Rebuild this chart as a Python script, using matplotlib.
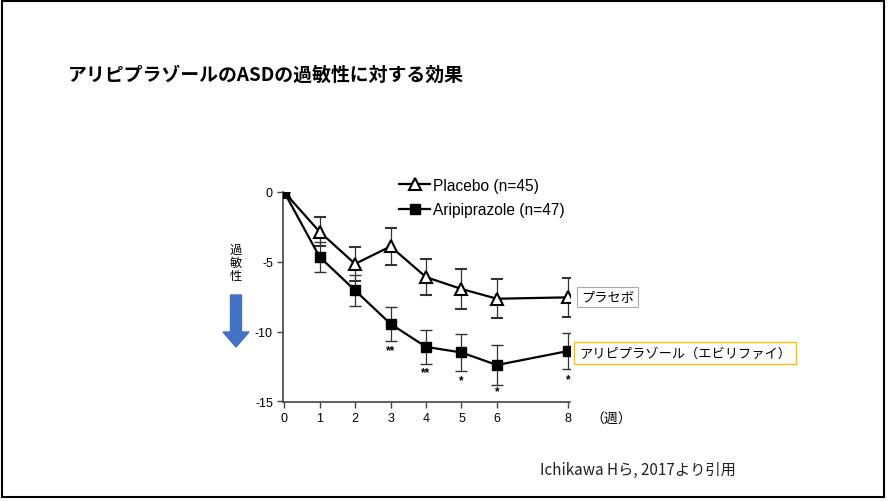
import numpy as np
import matplotlib.pyplot as plt
from matplotlib.patches import Rectangle, FancyArrow
from matplotlib.lines import Line2D

plt.rcParams['font.family'] = ['Liberation Sans', 'Noto Sans CJK JP', 'DejaVu Sans']

weeks = [0, 1, 2, 3, 4, 5, 6, 8]
placebo = [0, -2.85, -5.15, -3.9, -6.1, -6.95, -7.65, -7.55]
placebo_err = [0, 1.05, 1.2, 1.3, 1.3, 1.4, 1.4, 1.4]
aripiprazole = [0, -4.65, -7.05, -9.45, -11.1, -11.5, -12.4, -11.4]
aripiprazole_err = [0, 1.05, 1.1, 1.2, 1.2, 1.3, 1.4, 1.3]
star_weeks = [3, 4, 5, 6, 8]
star_text = ['**', '**', '*', '*', '*']
star_y = [-11.3, -12.9, -13.5, -14.3, -13.4]
xticks = [0, 1, 2, 3, 4, 5, 6, 8]
yticks = [0, -5, -10, -15]
labels = ['Placebo (n=45)', 'Aripiprazole (n=47)']

W, H = 890, 502
fig = plt.figure(figsize=(W / 100, H / 100), dpi=100)

# slide frame
fig.patches.append(Rectangle((2 / W, 4 / H), 882 / W, 496 / H, transform=fig.transFigure,
                             fill=False, edgecolor='black', linewidth=1.5))

fig.text(68 / W, 1 - 75 / H, 'アリピプラゾールのASDの過敏性に対する効果', fontsize=13.6,
         fontweight='bold', family=['Noto Sans CJK JP'], va='center', ha='left')

ax = fig.add_axes([282.7 / W, 1 - 403 / H, 287.3 / W, 210 / H])
ax.errorbar(weeks, placebo, yerr=placebo_err, color='black', lw=1.6, marker='^',
            ms=8, mfc='white', mec='black', mew=1.5, capsize=4, elinewidth=0.9,
            ecolor='#333333', zorder=3)
ax.errorbar(weeks, aripiprazole, yerr=aripiprazole_err, color='black', lw=1.6, marker='s',
            ms=7, mfc='black', mec='black', capsize=4, elinewidth=0.9,
            ecolor='#333333', zorder=3)
for w, t, y in zip(star_weeks, star_text, star_y):
    ax.text(w, y, t, ha='center', va='center', fontsize=8.5, fontweight='bold')

ax.set_xlim(-0.04, 8.06)
ax.set_ylim(-15.05, 0)
ax.set_xticks(xticks)
ax.set_yticks(yticks)
ax.set_yticklabels([str(v) for v in yticks])
ax.spines['top'].set_visible(False)
ax.spines['right'].set_visible(False)
for s in ('left', 'bottom'):
    ax.spines[s].set_linewidth(1.2)
    ax.spines[s].set_color('#444444')
ax.tick_params(axis='both', labelsize=9, length=4, width=1, color='#444444', pad=3)

handles = [Line2D([], [], color='black', lw=1.6, marker='^', ms=8, mfc='white', mec='black', mew=1.5),
           Line2D([], [], color='black', lw=1.6, marker='s', ms=7, mfc='black', mec='black')]
ax.legend(handles, labels, loc='upper left', bbox_to_anchor=((399 - 282.7) / 287.3, 1.067),
          frameon=False, fontsize=11.2, handlelength=2.0, handletextpad=0.2, labelspacing=0.6,
          borderaxespad=0, borderpad=0)

fig.text(590 / W, 1 - 420 / H, '（週）', fontsize=10, family=['Noto Sans CJK JP'],
         va='center', ha='left')

# y label and arrow
for ch, yc in zip('過敏性', [250, 263, 277]):
    fig.text(236 / W, 1 - yc / H, ch, fontsize=8.8, family=['Noto Sans CJK JP'],
             va='center', ha='center')
fig.patches.append(FancyArrow(236 / W, 1 - 296 / H, 0, -52 / H, width=11 / W,
                              head_width=26 / W, head_length=15 / H, length_includes_head=True,
                              transform=fig.transFigure, color='#4472C4'))

fig.text(581 / W, 1 - 298 / H, 'プラセボ', fontsize=9.5, family=['Noto Sans CJK JP'],
         va='center', ha='left',
         bbox=dict(boxstyle='square,pad=0.3', fc='white', ec='#aaaaaa', lw=0.8))
fig.text(579 / W, 1 - 354 / H, 'アリピプラゾール（エビリファイ）', fontsize=9.5,
         family=['Noto Sans CJK JP'], va='center', ha='left',
         bbox=dict(boxstyle='square,pad=0.35', fc='white', ec='#FFC000', lw=1.0))

fig.text(540 / W, 1 - 470 / H, 'Ichikawa Hら, 2017より引用', fontsize=11,
         family=['Noto Sans CJK JP'], va='center', ha='left', color='#222222')

fig.savefig('out.png', dpi=100)
